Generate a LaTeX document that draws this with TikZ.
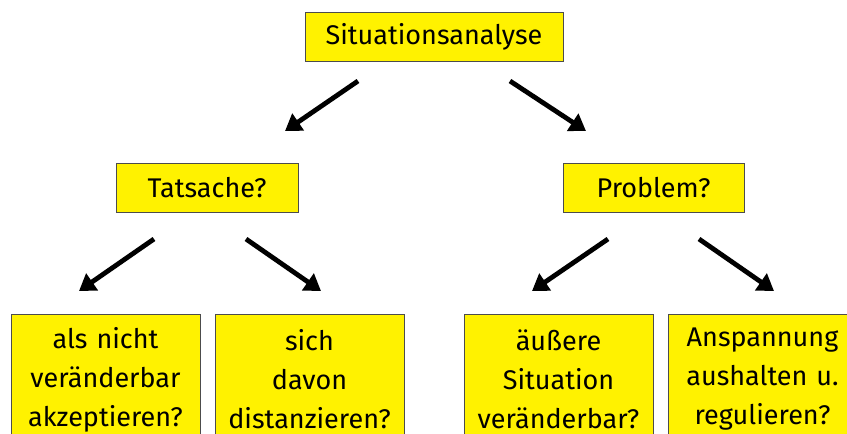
\documentclass[tikz,border=0pt]{standalone}
\usepackage{fontspec}
\setmainfont{Fira Sans}
\usetikzlibrary{arrows.meta}

\begin{document}
\begin{tikzpicture}[x=1pt, y=-1pt, >={Triangle[length=16pt, width=20pt]},
		frage/.style={draw=black!70, line width=0.8pt, fill=yellow, inner sep=0pt, font=\fontsize{27}{39}\selectfont},
		feld/.style={frage, anchor=north, minimum width=189, minimum height=130, text width=185, align=center},
		pfeil/.style={->, line width=4.8pt}]
			\clip (0,0) rectangle (847,434);
			\fill[white] (0,0) rectangle (847,434);
			% Kaesten
			\node[frage, minimum width=258, minimum height=49] (sit) at (434,36.5) {Situationsanalyse};
			\node[frage, minimum width=182, minimum height=49] (tat) at (207,187.5) {Tatsache?};
			\node[frage, minimum width=181, minimum height=49] (pro) at (653.5,187.5) {Problem?};
			\node[feld] (akz) at (105.5,314) {als nicht\\ veränderbar\\ akzeptieren?};
			\node[feld] (dis) at (309.5,314) {sich\\ davon\\ distanzieren?};
			\node[feld] (aus) at (558.5,314) {äußere\\ Situation\\ veränderbar?};
			\node[feld] (ans) at (762.5,314) {Anspannung\\ aushalten u.\\ regulieren?};
			% Pfeilenden
			\coordinate (sit-l) at (358,81);
			\coordinate (sit-r) at (510,81);
			\coordinate (tat-l) at (154,239);
			\coordinate (tat-r) at (246,239);
			\coordinate (pro-l) at (608,239);
			\coordinate (pro-r) at (699,239);
			\coordinate (tat-o) at (285,131);
			\coordinate (pro-o) at (586,131);
			\coordinate (akz-o) at (79,291);
			\coordinate (dis-o) at (321,291);
			\coordinate (aus-o) at (532,291);
			\coordinate (ans-o) at (774,291);
			% Pfeile
			\draw[pfeil] (sit-l) -- (tat-o);
			\draw[pfeil] (sit-r) -- (pro-o);
			\draw[pfeil] (tat-l) -- (akz-o);
			\draw[pfeil] (tat-r) -- (dis-o);
			\draw[pfeil] (pro-l) -- (aus-o);
			\draw[pfeil] (pro-r) -- (ans-o);
		\end{tikzpicture}
\end{document}
